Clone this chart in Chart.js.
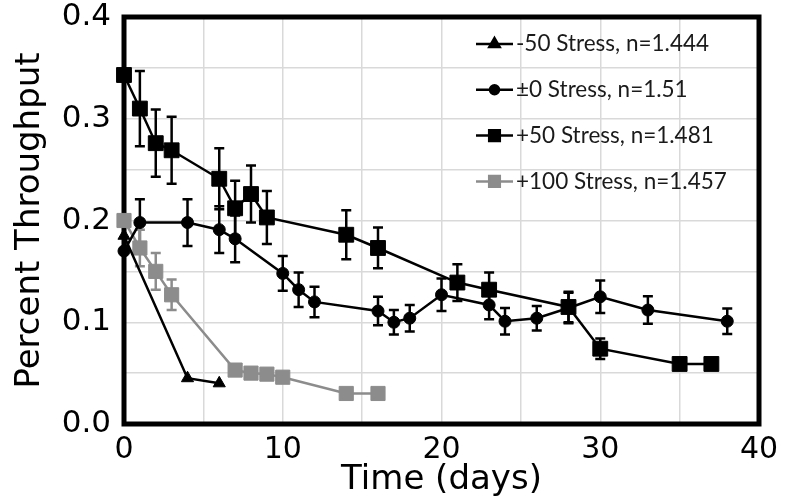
<!DOCTYPE html>
<html>
<head>
<meta charset="utf-8">
<script src="https://cdn.jsdelivr.net/npm/chart.js@4"></script>
<style>
  html, body { margin: 0; padding: 0; background: #fff; }
</style>
</head>
<body>
<canvas id="chart" width="788" height="502"></canvas>
<script>
// series labels
const seriesNames = ["-50 Stress, n=1.444", "\u00b10 Stress, n=1.51", "+50 Stress, n=1.481", "+100 Stress, n=1.457"];

// -50 stress (triangles)
const minus50Days = [0, 4, 6];
const minus50Vals = [0.185, 0.045, 0.040];
const minus50Err = [0, 0, 0];

// +-0 stress (circles)
const zeroDays = [0, 1, 4, 6, 7, 10, 11, 12, 16, 17, 18, 20, 23, 24, 26, 28, 30, 33, 38];
const zeroVals = [0.170, 0.198, 0.198, 0.191, 0.182, 0.148, 0.132, 0.120, 0.111, 0.100, 0.104, 0.127, 0.117, 0.101, 0.104, 0.114, 0.125, 0.112, 0.101];
const zeroErr = [0, 0.023, 0.023, 0.023, 0.023, 0.017, 0.017, 0.015, 0.014, 0.012, 0.013, 0.016, 0.014, 0.013, 0.012, 0.015, 0.016, 0.0135, 0.0125];

// +50 stress (black squares)
const plus50Days = [0, 1, 2, 3, 6, 7, 8, 9, 14, 16, 21, 23, 28, 30, 35, 37];
const plus50Vals = [0.343, 0.310, 0.276, 0.269, 0.241, 0.212, 0.226, 0.203, 0.186, 0.173, 0.139, 0.132, 0.115, 0.074, 0.059, 0.059];
const plus50Err = [0, 0.037, 0.033, 0.033, 0.030, 0.027, 0.028, 0.026, 0.024, 0.020, 0.018, 0.017, 0.015, 0.010, 0, 0];

// +100 stress (grey squares)
const plus100Days = [0, 1, 2, 3, 7, 8, 9, 10, 14, 16];
const plus100Vals = [0.200, 0.173, 0.150, 0.127, 0.053, 0.050, 0.049, 0.046, 0.030, 0.030];
const plus100Err = [0, 0.018, 0.018, 0.015, 0, 0, 0, 0, 0, 0];

const xTicks = [0, 10, 20, 30, 40];
const yTicks = [0.0, 0.1, 0.2, 0.3, 0.4];

const toPoints = (xs, ys) => xs.map((x, i) => ({ x: x, y: ys[i] }));

function makeSeries(i, xs, ys, errs, color, style, radius) {
  return {
    label: seriesNames[i],
    data: toPoints(xs, ys),
    errors: errs,
    showLine: true,
    borderColor: color,
    backgroundColor: color,
    borderWidth: 2.5,
    pointStyle: style,
    pointRadius: radius,
    pointBorderWidth: 1,
    pointBorderColor: color,
    pointBackgroundColor: color,
    clip: false,
  };
}

// thick black box round the plot area
const frame = {
  id: "frame",
  beforeDatasetsDraw(chart) {
    const { ctx, chartArea: a } = chart;
    ctx.save();
    ctx.strokeStyle = "#000";
    ctx.lineWidth = 5;
    ctx.strokeRect(a.left, a.top, a.right - a.left, a.bottom - a.top);
    ctx.restore();
  },
};

const errorBars = {
  id: "errorBars",
  beforeDatasetsDraw(chart) {
    const { ctx } = chart;
    const xs = chart.scales.x, ys = chart.scales.y;
    chart.data.datasets.forEach((ds) => {
      ctx.save();
      ctx.strokeStyle = ds.borderColor;
      ctx.lineWidth = 2.5;
      ds.data.forEach((p, i) => {
        const e = ds.errors[i];
        if (!e) return;
        const px = xs.getPixelForValue(p.x);
        const top = ys.getPixelForValue(p.y + e);
        const bot = ys.getPixelForValue(p.y - e);
        ctx.beginPath();
        ctx.moveTo(px, top); ctx.lineTo(px, bot);
        ctx.moveTo(px - 5, top); ctx.lineTo(px + 5, top);
        ctx.moveTo(px - 5, bot); ctx.lineTo(px + 5, bot);
        ctx.stroke();
      });
      ctx.restore();
    });
  },
};

// legend inside the top-right of the plot
const insideLegend = {
  id: "insideLegend",
  afterDatasetsDraw(chart) {
    const { ctx } = chart;
    const sizes = [6, 4.5, 7.5, 7.5];
    chart.data.datasets.forEach((ds, i) => {
      const y = 44 + i * 45.8;
      ctx.save();
      ctx.strokeStyle = ds.borderColor;
      ctx.fillStyle = ds.borderColor;
      ctx.lineWidth = 2.5;
      ctx.beginPath();
      ctx.moveTo(476, y);
      ctx.lineTo(513, y);
      ctx.stroke();
      Chart.helpers.drawPoint(ctx, { pointStyle: ds.pointStyle, radius: sizes[i], rotation: 0, borderWidth: 1 }, 494.5, y);
      ctx.fillStyle = "#1a1a1a";
      ctx.font = "22.5px Lato";
      ctx.textAlign = "left";
      ctx.textBaseline = "middle";
      ctx.fillText(ds.label, 516, y);
      ctx.restore();
    });
  },
};

new Chart(document.getElementById("chart").getContext("2d"), {
  type: "scatter",
  data: {
    datasets: [
      makeSeries(0, minus50Days, minus50Vals, minus50Err, "#000000", "triangle", 7),
      makeSeries(1, zeroDays, zeroVals, zeroErr, "#000000", "circle", 6),
      makeSeries(2, plus50Days, plus50Vals, plus50Err, "#000000", "rect", 10.5),
      makeSeries(3, plus100Days, plus100Vals, plus100Err, "#8c8c8c", "rect", 10),
    ],
  },
  options: {
    responsive: false,
    animation: false,
    layout: { padding: { top: 17, right: 29, left: 0, bottom: 0 } },
    plugins: { legend: { display: false }, tooltip: { enabled: false } },
    scales: {
      x: {
        type: "linear",
        min: 0,
        max: 40,
        afterFit: (s) => { s.height = 78; s.paddingLeft = 0; s.paddingRight = 0; },
        border: { display: false },
        grid: { color: "#d9d9d9", lineWidth: 1.5, drawTicks: false },
        ticks: {
          stepSize: 5,
          autoSkip: false,
          maxRotation: 0,
          padding: 8,
          color: "#000",
          font: { family: "DejaVu Sans", size: 30 },
          callback: (v) => (xTicks.includes(v) ? String(v) : ""),
        },
        title: {
          display: true,
          text: "Time (days)",
          color: "#000",
          font: { family: "DejaVu Sans", size: 34 },
          padding: { top: 0, bottom: 1 },
        },
      },
      y: {
        type: "linear",
        min: 0,
        max: 0.4,
        afterFit: (s) => { s.width = 124; s.paddingTop = 0; s.paddingBottom = 0; },
        border: { display: false },
        grid: { color: "#d9d9d9", lineWidth: 1.5, drawTicks: false },
        ticks: {
          stepSize: 0.05,
          autoSkip: false,
          padding: 13,
          color: "#000",
          font: { family: "DejaVu Sans", size: 31 },
          callback: (v) => {
            const t = yTicks.find((k) => Math.abs(k - v) < 1e-6);
            return t === undefined ? "" : t.toFixed(1);
          },
        },
        title: {
          display: true,
          text: "Percent Throughput",
          color: "#000",
          font: { family: "DejaVu Sans", size: 34 },
          padding: { top: 10, bottom: 0 },
        },
      },
    },
  },
  plugins: [frame, errorBars, insideLegend],
});
</script>
</body>
</html>
